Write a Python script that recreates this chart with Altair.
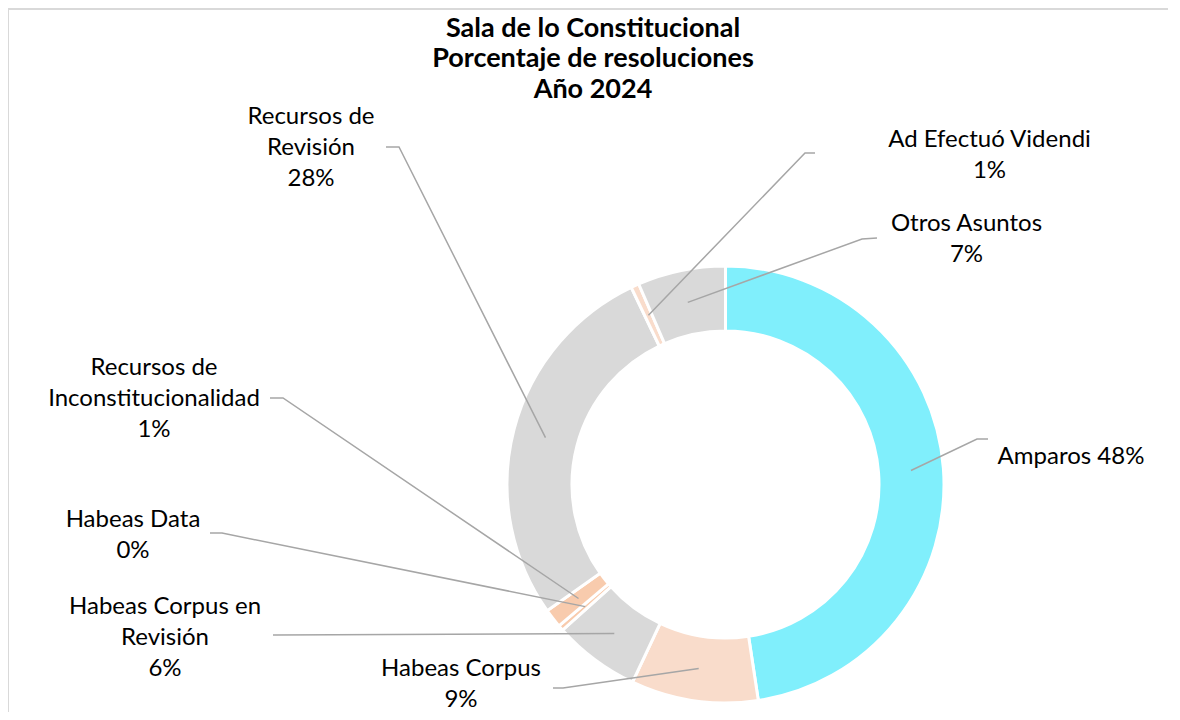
import math
import altair as alt
import pandas as pd

# ---- data ----
categories = ["Amparos", "Habeas Corpus", "Habeas Corpus en Revisión", "Habeas Data",
              "Recursos de Inconstitucionalidad", "Recursos de Revisión",
              "Ad Efectuó Videndi", "Otros Asuntos"]
percent = [47.6, 9.4, 6.4, 0.4, 1.4, 27.7, 0.6, 6.5]
label_names = ["Amparos", "Habeas Corpus", "Habeas Corpus en\nRevisión", "Habeas Data",
               "Recursos de\nInconstitucionalidad", "Recursos de\nRevisión",
               "Ad Efectuó Videndi", "Otros Asuntos"]
label_sep = [" ", "\n", "\n", "\n", "\n", "\n", "\n", "\n"]
colors = ["#80EFFC", "#F9DCCB", "#D9D9D9", "#F8CBAD", "#F8CBAD", "#D9D9D9", "#F9DCCB", "#D9D9D9"]
title_lines = ["Sala de lo Constitucional", "Porcentaje de resoluciones", "Año 2024"]

# ---- layout (view pixel coordinates; page = view + 8) ----
W, H = 1160, 704
CX, CY = 717.5, 476.5
R_OUT, R_IN, R_LEAD = 218.5, 153.5, 186
# position of the first line of each label block
label_pos = [(1063, 449), (453, 661), (157, 599), (125, 512), (146, 360),
             (303, 109), (981.5, 132), (958.5, 216)]
leader_pts = [[(969, 431), (980, 431)], [(555, 680), (545, 680)], [(267, 627), (265, 627)],
              [(214, 525), (202, 525)], [(275, 390), (262, 390)], [(391, 139), (378, 139)],
              [(797, 145), (807, 145)], [(854, 231), (869, 230)]]
FONT = "Lato"

df = pd.DataFrame({"cat": categories, "value": percent, "idx": list(range(len(categories)))})

arcs = alt.Chart(df).mark_arc(stroke="white", strokeWidth=3, radius=R_OUT, radius2=R_IN).encode(
    theta=alt.Theta("value:Q", stack=True, scale=alt.Scale(domain=[0, sum(percent)])),
    color=alt.Color("cat:N", scale=alt.Scale(domain=categories, range=colors), legend=None),
    order=alt.Order("idx:Q"),
    x=alt.value(CX), y=alt.value(CY),
)

# leader lines: start at slice mid-angle
total = sum(percent)
rows = []
cum = 0.0
for i, (c, v) in enumerate(zip(categories, percent)):
    mid = (cum + v / 2) / total * 2 * math.pi
    cum += v
    sx = CX + R_LEAD * math.sin(mid)
    sy = CY - R_LEAD * math.cos(mid)
    pts = [(sx, sy)] + leader_pts[i]
    for k, (px, py) in enumerate(pts):
        rows.append({"cat": c, "step": k, "x": px, "y": py})
lead_df = pd.DataFrame(rows)

leaders = alt.Chart(lead_df).mark_line(color="#A6A6A6", strokeWidth=1.5).encode(
    x=alt.X("x:Q", scale=None, axis=None),
    y=alt.Y("y:Q", scale=None, axis=None),
    detail="cat:N",
    order="step:Q",
)

lab_df = pd.DataFrame({
    "text": [n + s + f"{int(p + 0.5)}%" for n, s, p in zip(label_names, label_sep, percent)],
    "x": [p[0] for p in label_pos],
    "y": [p[1] for p in label_pos],
})
labels = alt.Chart(lab_df).mark_text(font=FONT, fontSize=24, color="black", align="center",
                                      baseline="middle", lineBreak="\n", lineHeight=31).encode(
    x=alt.X("x:Q", scale=None, axis=None),
    y=alt.Y("y:Q", scale=None, axis=None),
    text="text:N",
)

title_df = pd.DataFrame({"text": ["\n".join(title_lines)]})
title = alt.Chart(title_df).mark_text(font=FONT, fontSize=27, fontWeight="bold", color="black",
                                       align="center", baseline="middle", lineBreak="\n",
                                       lineHeight=30.5).encode(
    x=alt.value(585), y=alt.value(20.5), text="text:N")

border_df = pd.DataFrame({"x": [W, 0, 0], "y": [1, 1, H], "step": [0, 1, 2]})
border = alt.Chart(border_df).mark_line(color="#D9D9D9", strokeWidth=2).encode(
    x=alt.X("x:Q", scale=None, axis=None),
    y=alt.Y("y:Q", scale=None, axis=None),
    order="step:Q",
)

chart = alt.layer(border, arcs, leaders, labels, title).properties(
    width=W, height=H, autosize="none", padding=0
).configure_view(strokeWidth=0, stroke="transparent")

chart.save("out.html", embed_options={"renderer": "svg", "actions": False})
